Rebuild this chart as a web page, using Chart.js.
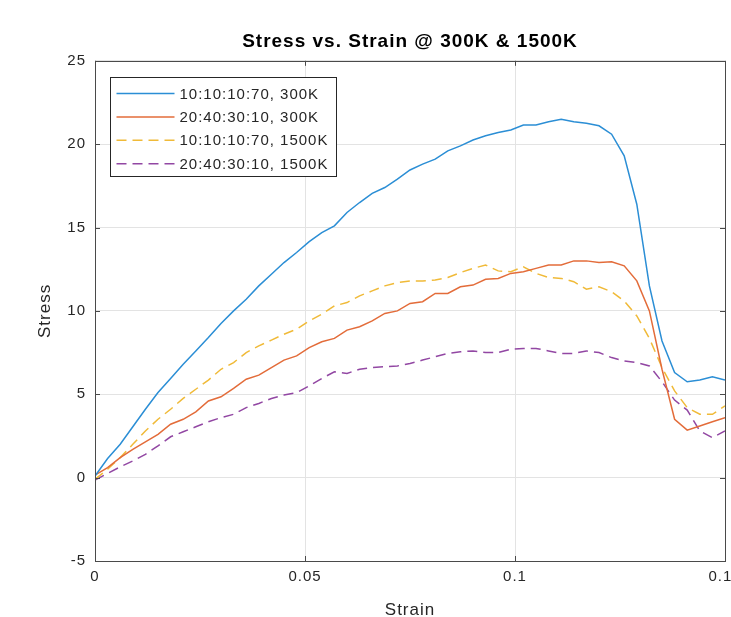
<!DOCTYPE html>
<html lang="en">
<head>
    <meta charset="UTF-8">
    <title>Stress vs. Strain @ 300K & 1500K</title>
    <script src="https://cdn.jsdelivr.net/npm/chart.js"></script>
    <style>
        html, body {
            margin: 0;
            padding: 0;
            overflow: hidden;
            background: #ffffff;
        }
        #wrap {
            width: 760px;
            height: 630px;
        }
    </style>
</head>
<body>
    <div id="wrap">
        <canvas id="stressChart" width="760" height="630"></canvas>
    </div>

    <script>
        // strain (x) values
        const strain = [
            0, 0.003, 0.006, 0.009, 0.012, 0.015, 0.018, 0.021, 0.024, 0.027,
            0.030, 0.033, 0.036, 0.039, 0.042, 0.045, 0.048, 0.051, 0.054, 0.057,
            0.060, 0.063, 0.066, 0.069, 0.072, 0.075, 0.078, 0.081, 0.084, 0.087,
            0.090, 0.093, 0.096, 0.099, 0.102, 0.105, 0.108, 0.111, 0.114, 0.117,
            0.120, 0.123, 0.126, 0.129, 0.132, 0.135, 0.138, 0.141, 0.144, 0.147,
            0.150
        ];

        // 10:10:10:70, 300K
        const stressA300 = [
            0.1, 1.15, 2.0, 3.05, 4.1, 5.1, 5.95, 6.8, 7.6, 8.4,
            9.25, 10.0, 10.7, 11.5, 12.2, 12.9, 13.5, 14.15, 14.7, 15.1,
            15.9, 16.5, 17.05, 17.4, 17.9, 18.45, 18.8, 19.1, 19.6, 19.9,
            20.25, 20.5, 20.7, 20.85, 21.15, 21.15, 21.35, 21.5, 21.35, 21.25,
            21.1, 20.6, 19.3, 16.4, 11.5, 8.2, 6.3, 5.75, 5.85, 6.05,
            5.85
        ];

        // 20:40:30:10, 300K
        const stressB300 = [
            0.15, 0.6, 1.2, 1.7, 2.15, 2.6, 3.2, 3.5, 3.95, 4.6,
            4.85, 5.35, 5.9, 6.15, 6.6, 7.05, 7.3, 7.8, 8.15, 8.35,
            8.85, 9.05, 9.4, 9.85, 10.0, 10.45, 10.55, 11.05, 11.05, 11.45,
            11.55, 11.9, 11.95, 12.25, 12.35, 12.55, 12.75, 12.75, 13.0, 13.0,
            12.9, 12.95, 12.7, 11.8, 10.0, 6.5, 3.5, 2.85, 3.1, 3.35,
            3.6
        ];

        // 10:10:10:70, 1500K
        const stressA1500 = [
            -0.1, 0.5, 1.2, 2.0, 2.8, 3.5, 4.1, 4.75, 5.3, 5.85,
            6.5, 6.9, 7.5, 7.9, 8.25, 8.6, 8.9, 9.4, 9.8, 10.3,
            10.5, 10.9, 11.2, 11.5, 11.7, 11.8, 11.8, 11.85, 12.0, 12.3,
            12.55, 12.75, 12.4, 12.35, 12.65, 12.25, 12.0, 11.95, 11.75, 11.3,
            11.45, 11.15, 10.6, 9.7, 8.35, 6.6, 5.2, 4.2, 3.8, 3.8,
            4.3
        ];

        // 20:40:30:10, 1500K
        const stressB1500 = [
            -0.15, 0.25, 0.65, 1.0, 1.4, 1.9, 2.45, 2.75, 3.05, 3.35,
            3.6, 3.8, 4.2, 4.45, 4.75, 4.95, 5.1, 5.5, 5.95, 6.35,
            6.25, 6.5, 6.6, 6.65, 6.7, 6.85, 7.05, 7.25, 7.45, 7.55,
            7.6, 7.5, 7.5, 7.7, 7.75, 7.75, 7.6, 7.45, 7.45, 7.6,
            7.5, 7.2, 7.0, 6.9, 6.7, 5.75, 4.65, 4.05, 2.8, 2.4,
            2.8
        ];

        const seriesLabels = [
            '10:10:10:70, 300K',
            '20:40:30:10, 300K',
            '10:10:10:70, 1500K',
            '20:40:30:10, 1500K'
        ];

        const axisColor = '#262626';
        const fontFamily = '"Liberation Sans", Arial, sans-serif';

        function toPoints(ys) {
            return strain.map((x, i) => ({ x: x, y: ys[i] }));
        }

        // MATLAB style text spacing, box, inward ticks and legend
        const matlabAxes = {
            id: 'matlabAxes',
            beforeUpdate(chart) {
                chart.ctx.letterSpacing = '1px';
            },
            beforeDraw(chart) {
                chart.ctx.letterSpacing = '1px';
            },
            afterDraw(chart) {
                const ctx = chart.ctx;
                const area = chart.chartArea;
                const xs = chart.scales.x;
                const ys = chart.scales.y;
                const tick = 5;

                ctx.save();
                ctx.strokeStyle = '#4a4a4a';
                ctx.lineWidth = 1;
                ctx.beginPath();
                xs.ticks.forEach(t => {
                    const px = Math.round(xs.getPixelForValue(t.value)) + 0.5;
                    ctx.moveTo(px, area.bottom);
                    ctx.lineTo(px, area.bottom - tick);
                    ctx.moveTo(px, area.top);
                    ctx.lineTo(px, area.top + tick);
                });
                ys.ticks.forEach(t => {
                    const py = Math.round(ys.getPixelForValue(t.value)) + 0.5;
                    ctx.moveTo(area.left, py);
                    ctx.lineTo(area.left + tick, py);
                    ctx.moveTo(area.right, py);
                    ctx.lineTo(area.right - tick, py);
                });
                ctx.stroke();
                ctx.strokeRect(Math.round(area.left) + 0.5, Math.round(area.top) + 0.5,
                    Math.round(area.right - area.left), Math.round(area.bottom - area.top));

                // legend box
                const lx = Math.round(area.left + 15) + 0.5;
                const ly = Math.round(area.top + 16) + 0.5;
                const lw = 226;
                const rowH = 23.4;
                const lh = 99;
                ctx.fillStyle = '#ffffff';
                ctx.fillRect(lx, ly, lw, lh);
                ctx.strokeStyle = '#262626';
                ctx.strokeRect(lx, ly, lw, lh);

                ctx.font = '15px ' + fontFamily;
                ctx.textBaseline = 'middle';
                ctx.textAlign = 'left';
                chart.data.datasets.forEach((ds, i) => {
                    const cy = ly + 16 + i * rowH;
                    ctx.strokeStyle = ds.borderColor;
                    ctx.lineWidth = ds.borderWidth;
                    ctx.setLineDash(ds.borderDash || []);
                    ctx.beginPath();
                    ctx.moveTo(lx + 6, cy);
                    ctx.lineTo(lx + 64, cy);
                    ctx.stroke();
                    ctx.setLineDash([]);
                    ctx.fillStyle = axisColor;
                    ctx.fillText(ds.label, lx + 69, cy + 1);
                });
                ctx.restore();
            }
        };

        const ctx = document.getElementById('stressChart').getContext('2d');
        new Chart(ctx, {
            type: 'line',
            data: {
                datasets: [
                    {
                        label: seriesLabels[0],
                        data: toPoints(stressA300),
                        borderColor: '#2b8ed5',
                        borderWidth: 1.5
                    },
                    {
                        label: seriesLabels[1],
                        data: toPoints(stressB300),
                        borderColor: '#e36c3a',
                        borderWidth: 1.5
                    },
                    {
                        label: seriesLabels[2],
                        data: toPoints(stressA1500),
                        borderColor: '#f0ba38',
                        borderWidth: 1.5,
                        borderDash: [10, 6]
                    },
                    {
                        label: seriesLabels[3],
                        data: toPoints(stressB1500),
                        borderColor: '#9247a3',
                        borderWidth: 1.5,
                        borderDash: [10, 6]
                    }
                ]
            },
            options: {
                responsive: false,
                animation: false,
                devicePixelRatio: 1,
                elements: {
                    point: { radius: 0 },
                    line: { tension: 0, fill: false }
                },
                layout: {
                    padding: { left: 35, right: 35, top: 0, bottom: 7 }
                },
                scales: {
                    x: {
                        type: 'linear',
                        min: 0,
                        max: 0.15,
                        afterFit(scale) { scale.height = 62; },
                        ticks: {
                            stepSize: 0.05,
                            padding: 7,
                            color: axisColor,
                            font: { family: fontFamily, size: 15 },
                            maxRotation: 0,
                            callback: v => String(Number(v.toFixed(4)))
                        },
                        grid: { color: '#e3e3e3', drawTicks: false },
                        border: { display: false },
                        title: {
                            display: true,
                            text: 'Strain',
                            color: axisColor,
                            font: { family: fontFamily, size: 17 },
                            padding: { top: 0, bottom: 2 }
                        }
                    },
                    y: {
                        min: -5,
                        max: 25,
                        afterFit(scale) { scale.width = 60; },
                        ticks: {
                            stepSize: 5,
                            padding: 9,
                            color: axisColor,
                            font: { family: fontFamily, size: 15 }
                        },
                        grid: { color: '#e3e3e3', drawTicks: false },
                        border: { display: false },
                        title: {
                            display: true,
                            text: 'Stress',
                            color: axisColor,
                            font: { family: fontFamily, size: 17 },
                            padding: 0
                        }
                    }
                },
                plugins: {
                    legend: { display: false },
                    tooltip: { enabled: false },
                    title: {
                        display: true,
                        fullSize: false,
                        text: 'Stress vs. Strain @ 300K & 1500K',
                        color: '#000000',
                        font: { family: fontFamily, size: 19, weight: 'bold' },
                        padding: { top: 30, bottom: 8 }
                    }
                }
            },
            plugins: [matlabAxes]
        });
    </script>
</body>
</html>
